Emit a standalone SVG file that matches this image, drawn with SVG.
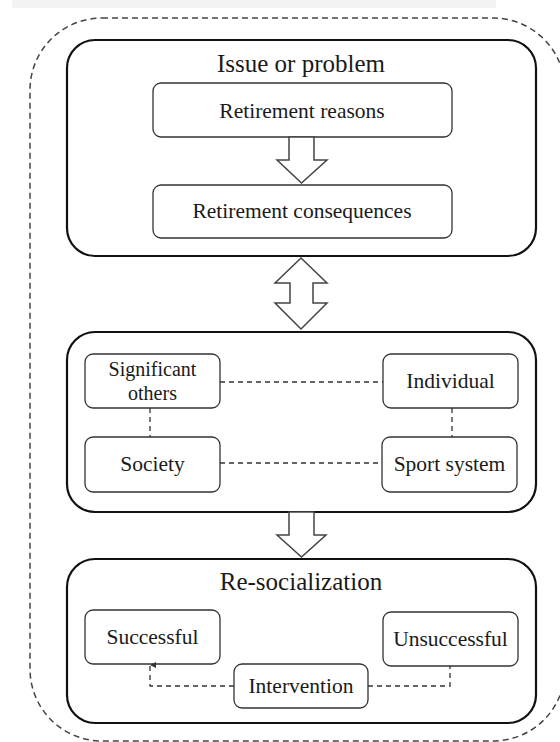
<svg xmlns="http://www.w3.org/2000/svg" width="560" height="742" viewBox="0 0 560 742">
<defs>
<style>
.big{fill:#fff;stroke:#111;stroke-width:2.2}
.box{fill:#fff;stroke:#333;stroke-width:1.3}
.t{font-family:"Liberation Serif","Times New Roman",serif;fill:#1a1a1a;text-anchor:middle}
.title{font-size:25px}
.lbl{font-size:21.5px}
.dash{fill:none;stroke:#333;stroke-width:1.3;stroke-dasharray:5 4}
.harrow{fill:#fff;stroke:#444;stroke-width:1.5;stroke-linejoin:miter}
</style>
<marker id="ah" viewBox="0 0 6 6" refX="3" refY="0" markerWidth="6" markerHeight="6" markerUnits="userSpaceOnUse" orient="auto-start-reverse">
<path d="M0,6 L3,0 L6,6 Z" fill="#333"/>
</marker>
</defs>
<rect x="0" y="0" width="560" height="742" fill="#fff"/>
<rect x="12" y="0" width="484" height="8" fill="#f3f3f3"/>
<rect id="outer" x="30" y="18" width="535" height="723" rx="72" ry="72" fill="none" stroke="#444" stroke-width="1.5" stroke-dasharray="6 4"/>

<g id="issue">
<rect class="big" x="67" y="40" width="469" height="216" rx="28"/>
<text class="t title" x="301" y="72">Issue or problem</text>
</g>
<g id="reasons">
<rect class="box" x="153" y="83" width="299" height="54" rx="8"/>
<text class="t lbl" x="302" y="118">Retirement reasons</text>
</g>
<g id="consequences">
<rect class="box" x="153" y="185" width="299" height="53" rx="8"/>
<text class="t lbl" x="302" y="218">Retirement consequences</text>
</g>

<g id="context">
<rect class="big" x="67" y="332" width="469" height="180" rx="28"/>
</g>
<g id="significant">
<rect class="box" x="85" y="354" width="135" height="54" rx="8"/>
<text class="t" font-size="20" x="152.5" y="376">Significant</text>
<text class="t" font-size="20" x="152.5" y="400">others</text>
</g>
<g id="individual">
<rect class="box" x="383" y="354" width="135" height="54" rx="8"/>
<text class="t lbl" x="450.5" y="388">Individual</text>
</g>
<g id="society">
<rect class="box" x="85" y="437" width="135" height="55" rx="8"/>
<text class="t lbl" x="152.5" y="471">Society</text>
</g>
<g id="sport">
<rect class="box" x="382" y="437" width="135" height="55" rx="8"/>
<text class="t lbl" x="449.5" y="471">Sport system</text>
</g>

<g id="resocialization">
<rect class="big" x="67" y="559" width="469" height="164" rx="28"/>
<text class="t title" x="301" y="590">Re-socialization</text>
</g>
<g id="successful">
<rect class="box" x="85" y="610" width="135" height="54" rx="8"/>
<text class="t lbl" x="152.5" y="644">Successful</text>
</g>
<g id="unsuccessful">
<rect class="box" x="383" y="612" width="135" height="54" rx="8"/>
<text class="t lbl" x="450.5" y="646">Unsuccessful</text>
</g>
<g id="intervention">
<rect class="box" x="234" y="664" width="134" height="44" rx="8"/>
<text class="t lbl" x="301" y="693">Intervention</text>
</g>

<g id="connectors">
<polygon class="harrow" points="289,137 314,137 314,160 327,160 301.5,183 277,160 289,160"/>
<polygon class="harrow" points="301,258 327,283 313,283 313,303 327,303 301,329 275,303 290,303 290,283 275,283"/>
<polygon class="harrow" points="289,512 314,512 314,535 326,535 301.5,557 277,535 289,535"/>
<line class="dash" x1="220" y1="382" x2="383" y2="382"/>
<line class="dash" x1="220" y1="463" x2="382" y2="463"/>
<line class="dash" x1="150" y1="408" x2="150" y2="437"/>
<line class="dash" x1="452" y1="408" x2="452" y2="437"/>
<polyline class="dash" points="234,686 150,686 150,665" marker-end="url(#ah)"/>
<polyline class="dash" points="368,686 450,686 450,666"/>
</g>
</svg>
